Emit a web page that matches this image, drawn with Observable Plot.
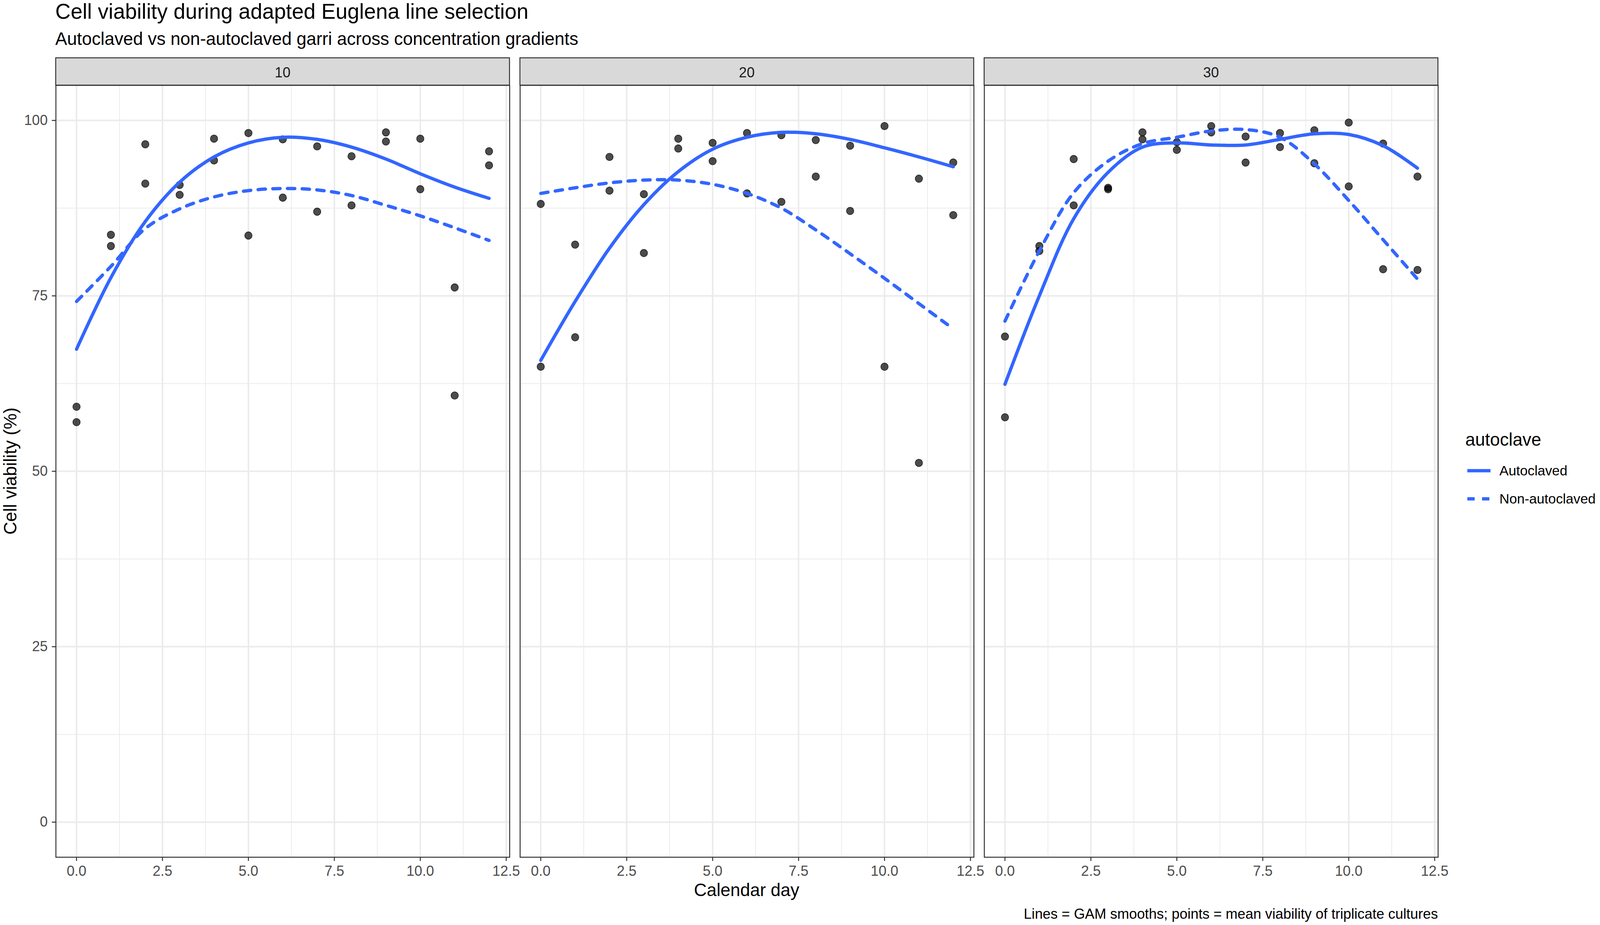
<!DOCTYPE html>
<html>
<head>
<meta charset="utf-8">
<script src="https://cdn.jsdelivr.net/npm/d3@7"></script>
<script src="https://cdn.jsdelivr.net/npm/@observablehq/plot@0.6"></script>
<style>
html, body { margin: 0; padding: 0; background: #fff; overflow: hidden; }
#page { width: 4136px; height: 2368px; position: absolute; left: 0; top: 0; transform-origin: 0 0;
        font-family: "Liberation Sans", Arial, Helvetica, sans-serif; color: #000; }
.t { position: absolute; white-space: nowrap; line-height: 1; }
#chart { position: absolute; left: 0; top: 100px; }
</style>
</head>
<body>
<div id="page">
<div class="t" id="title" style="left:143px; top:2px; font-size:55px;">Cell viability during adapted Euglena line selection</div>
<div class="t" id="subtitle" style="left:143px; top:77px; font-size:45.8px;">Autoclaved vs non-autoclaved garri across concentration gradients</div>
<div id="chart"></div>
<div class="t" id="xtitle" style="left:1430px; width:1000px; text-align:center; top:2256px; font-size:45.8px;">Calendar day</div>
<div class="t" id="ytitle" style="left:27px; top:1206px; font-size:45.8px; line-height:45.8px; transform: translate(-50%,-50%) rotate(-90deg);">Cell viability (%)</div>
<div id="legend"></div>
<div class="t" id="caption" style="right:419px; top:2322px; font-size:36.7px;">Lines = GAM smooths; points = mean viability of triplicate cultures</div>
</div>
<script>
// ---------- data ----------
const concentrations = ["10", "20", "30"];
const days = [0, 1, 2, 3, 4, 5, 6, 7, 8, 9, 10, 11, 12];

// two mean-viability points per day, per concentration
const viabA10 = [59.2, 83.7, 96.6, 90.8, 97.4, 98.2, 97.3, 96.3, 94.9, 98.3, 97.4, 76.2, 95.6];
const viabB10 = [57.0, 82.1, 91.0, 89.4, 94.3, 83.6, 89.0, 87.0, 87.9, 97.0, 90.2, 60.8, 93.6];
const viabA20 = [88.1, 82.3, 94.8, 89.5, 97.4, 96.8, 98.2, 97.9, 97.2, 96.4, 99.2, 91.7, 94.0];
const viabB20 = [64.9, 69.1, 90.0, 81.1, 96.0, 94.2, 89.6, 88.4, 92.0, 87.1, 64.9, 51.2, 86.5];
const viabA30 = [69.2, 82.1, 94.5, 90.4, 98.3, 96.9, 99.2, 97.7, 98.2, 98.6, 99.7, 96.7, 92.0];
const viabB30 = [57.7, 81.4, 87.9, 90.2, 97.3, 95.8, 98.3, 94.0, 96.2, 93.9, 90.6, 78.8, 78.7];

// GAM smooth curves read at each day
const smoothAuto10 = [67.4, 77.6, 85.6, 91.2, 94.8, 96.8, 97.6, 97.3, 96.2, 94.5, 92.4, 90.5, 88.9];
const smoothNon10  = [74.2, 79.2, 84.6, 87.4, 89.1, 90.0, 90.3, 90.1, 89.3, 87.9, 86.4, 84.7, 82.9];
const smoothAuto20 = [65.8, 74.2, 81.8, 88.0, 92.7, 95.9, 97.6, 98.3, 98.1, 97.3, 96.1, 94.8, 93.4];
const smoothNon20  = [89.6, 90.4, 91.1, 91.5, 91.5, 90.9, 89.6, 87.5, 84.4, 81.0, 77.5, 73.9, 70.3];
const smoothAuto30 = [62.4, 75.0, 86.0, 92.6, 96.2, 96.8, 96.5, 96.5, 97.3, 98.1, 98.0, 96.4, 93.2];
const smoothNon30  = [71.4, 81.4, 89.7, 94.2, 96.7, 97.6, 98.5, 98.7, 97.6, 93.8, 88.6, 83.0, 77.4];

const seriesNames = ["Autoclaved", "Non-autoclaved"];
const xTicks = [0, 2.5, 5, 7.5, 10, 12.5];
const xMinor = [1.25, 3.75, 6.25, 8.75, 11.25];
const yTicks = [0, 25, 50, 75, 100];
const yMinor = [12.5, 37.5, 62.5, 87.5];

// ---------- tables ----------
const pointSets = {"10": [viabA10, viabB10], "20": [viabA20, viabB20], "30": [viabA30, viabB30]};
const smoothSets = {
  "10": [smoothAuto10, smoothNon10],
  "20": [smoothAuto20, smoothNon20],
  "30": [smoothAuto30, smoothNon30]
};
const points = [];
const smooth = [];
for (const c of concentrations) {
  days.forEach((d, i) => {
    for (const arr of pointSets[c]) points.push({conc: c, day: d, v: arr[i]});
    smoothSets[c].forEach((arr, k) => smooth.push({conc: c, day: d, v: arr[i], series: seriesNames[k]}));
  });
}
const smoothAuto = smooth.filter(d => d.series === "Autoclaved");
const smoothNon = smooth.filter(d => d.series === "Non-autoclaved");

const BLUE = "#3366FF";
const LINE_W = 8.5;
const DASH = "19 19";
const gridColor = "#ebebeb";
const SMALL = 36.7;

const chart = Plot.plot({
  width: 3740,
  height: 2220,
  marginTop: 118,
  marginBottom: 126,
  marginLeft: 144,
  marginRight: 23,
  style: {fontFamily: "Liberation Sans, Arial, Helvetica, sans-serif", background: "transparent", overflow: "visible"},
  fx: {domain: concentrations, paddingInner: 0.0225, paddingOuter: 0, round: false, axis: null, label: null},
  x: {domain: [-0.6, 12.6], label: null},
  y: {domain: [-5, 105], label: null},
  marks: [
    Plot.gridX(xMinor, {stroke: gridColor, strokeOpacity: 1, strokeWidth: 2}),
    Plot.gridY(yMinor, {stroke: gridColor, strokeOpacity: 1, strokeWidth: 2}),
    Plot.gridX(xTicks, {stroke: gridColor, strokeOpacity: 1, strokeWidth: 4}),
    Plot.gridY(yTicks, {stroke: gridColor, strokeOpacity: 1, strokeWidth: 4}),
    Plot.dot(points, {x: "day", y: "v", fx: "conc", r: 9.5, fill: "#000", fillOpacity: 0.7,
                      stroke: "#000", strokeOpacity: 0.75, strokeWidth: 1.6}),
    Plot.line(smoothAuto, {x: "day", y: "v", fx: "conc", stroke: BLUE, strokeWidth: LINE_W, curve: "catmull-rom"}),
    Plot.line(smoothNon, {x: "day", y: "v", fx: "conc", stroke: BLUE, strokeWidth: LINE_W, curve: "catmull-rom",
                          strokeDasharray: DASH}),
    Plot.frame({stroke: "#333", strokeWidth: 2.5}),
    Plot.axisX(xTicks, {tickFormat: d3.format(".1f"), tickSize: 10, tickPadding: 11, fontSize: SMALL,
                        stroke: "#333", fill: "#4d4d4d", strokeWidth: 2.5, label: null}),
    Plot.axisY(yTicks, {tickSize: 10, tickPadding: 11, fontSize: SMALL,
                        stroke: "#333", fill: "#4d4d4d", strokeWidth: 2.5, label: null})
  ]
});
document.getElementById("chart").appendChild(chart);

// facet strips, positioned with the fx scale
const fx = chart.scale("fx");
const svg = d3.select(chart);
const strips = svg.append("g").attr("class", "strips");
for (const c of fx.domain) {
  const x0 = fx.apply(c);
  const bw = fx.bandwidth;
  strips.append("rect")
    .attr("x", x0).attr("y", 48).attr("width", bw).attr("height", 70)
    .attr("fill", "#d9d9d9").attr("stroke", "#333").attr("stroke-width", 2.5);
  strips.append("text")
    .attr("x", x0 + bw / 2).attr("y", 85)
    .attr("text-anchor", "middle").attr("dominant-baseline", "central")
    .attr("font-size", SMALL).attr("fill", "#1a1a1a")
    .text(c);
}

// legend
const legend = d3.select("#legend");
legend.append("div").attr("class", "t").style("left", "3788px").style("top", "1103px")
  .style("font-size", "45.8px").text("autoclave");
const keyY = [1205, 1277];
seriesNames.forEach((name, i) => {
  const key = legend.append("svg").style("position", "absolute")
    .style("left", "3790px").style("top", (keyY[i] - 20) + "px")
    .attr("width", 66).attr("height", 40);
  key.append("line").attr("x1", 3).attr("x2", 63).attr("y1", 20).attr("y2", 20)
    .attr("stroke", BLUE).attr("stroke-width", LINE_W)
    .attr("stroke-dasharray", i === 1 ? DASH : null);
  legend.append("div").attr("class", "t").style("left", "3876px").style("top", (keyY[i] + 13 - 30) + "px")
    .style("font-size", "35.5px").text(name);
});

// fit the 4136 x 2368 page into the viewport actually available
const vw = document.documentElement.clientWidth || window.innerWidth;
const vh = document.documentElement.clientHeight || window.innerHeight;
const sx = Math.min(1, vw / 4136), sy = Math.min(1, vh / 2368);
if (sx < 1 || sy < 1) document.getElementById("page").style.transform = `scale(${sx}, ${sy})`;
</script>
</body>
</html>
